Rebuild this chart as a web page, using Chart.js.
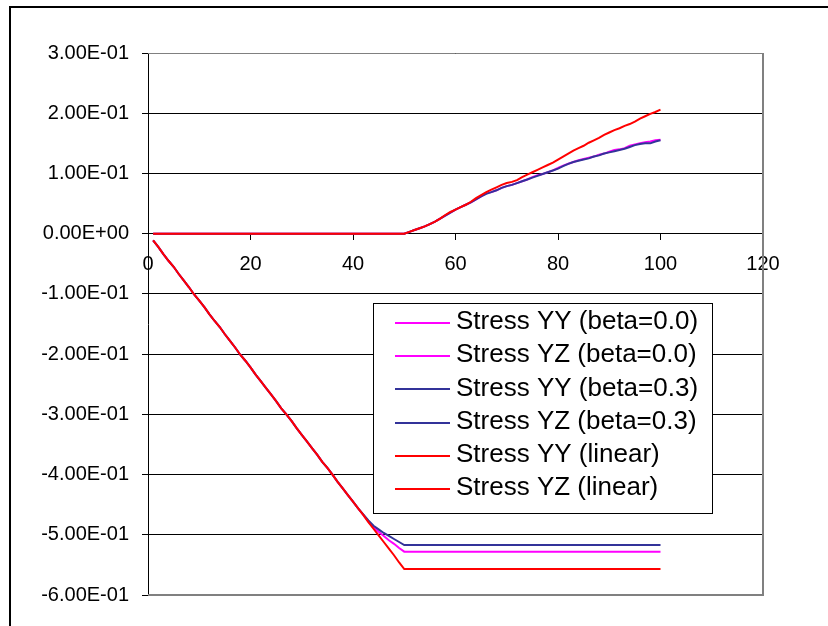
<!DOCTYPE html>
<html>
<head>
<meta charset="utf-8">
<script src="https://cdn.jsdelivr.net/npm/chart.js@4"></script>
<style>
html,body{margin:0;padding:0;background:#fff;}
#wrap{width:828px;height:626px;position:relative;}
</style>
</head>
<body>
<div id="wrap"><canvas id="c" width="828" height="626"></canvas></div>
<script>
const xValues = [1,2,3,4,5,6,7,8,9,10,11,12,13,14,15,16,17,18,19,20,21,22,23,24,25,26,27,28,29,30,31,32,33,34,35,36,37,38,39,40,41,42,43,44,45,46,47,48,49,50,51,52,53,54,55,56,57,58,59,60,61,62,63,64,65,66,67,68,69,70,71,72,73,74,75,76,77,78,79,80,81,82,83,84,85,86,87,88,89,90,91,92,93,94,95,96,97,98,99,100];

const legendLabels = ["Stress YY (beta=0.0)","Stress YZ (beta=0.0)","Stress YY (beta=0.3)","Stress YZ (beta=0.3)","Stress YY (linear)","Stress YZ (linear)"];

const yyBeta00 = [0,0,0,0,0,0,0,0,0,0, 0,0,0,0,0,0,0,0,0,0, 0,0,0,0,0,0,0,0,0,0, 0,0,0,0,0,0,0,0,0,0, 0,0,0,0,0,0,0,0,0,0,
 0.003,0.006,0.009,0.012,0.016,0.020,0.025,0.030,0.035,0.040,
 0.044,0.048,0.052,0.057,0.062,0.067,0.069,0.072,0.076,0.079,
 0.081,0.084,0.087,0.090,0.094,0.097,0.099,0.102,0.105,0.109,
 0.113,0.116,0.119,0.122,0.124,0.126,0.128,0.131,0.133,0.136,
 0.139,0.140,0.142,0.146,0.148,0.150,0.152,0.153,0.155,0.156];
const yzBeta00 = [-0.011,-0.022,-0.034,-0.045,-0.055,-0.067,-0.078,-0.089,-0.101,-0.111,
 -0.122,-0.134,-0.145,-0.155,-0.167,-0.178,-0.189,-0.201,-0.211,-0.222,
 -0.234,-0.245,-0.256,-0.267,-0.278,-0.290,-0.300,-0.311,-0.323,-0.334,
 -0.345,-0.356,-0.367,-0.379,-0.389,-0.400,-0.412,-0.423,-0.434,-0.445,
 -0.456,-0.467,-0.478,-0.488,-0.495,-0.502,-0.509,-0.515,-0.522,-0.528,
 -0.528,-0.528,-0.528,-0.528,-0.528,-0.528,-0.528,-0.528,-0.528,-0.528,
 -0.528,-0.528,-0.528,-0.528,-0.528,-0.528,-0.528,-0.528,-0.528,-0.528,
 -0.528,-0.528,-0.528,-0.528,-0.528,-0.528,-0.528,-0.528,-0.528,-0.528,
 -0.528,-0.528,-0.528,-0.528,-0.528,-0.528,-0.528,-0.528,-0.528,-0.528,
 -0.528,-0.528,-0.528,-0.528,-0.528,-0.528,-0.528,-0.528,-0.528,-0.528];
const yyBeta03 = [0,0,0,0,0,0,0,0,0,0, 0,0,0,0,0,0,0,0,0,0, 0,0,0,0,0,0,0,0,0,0, 0,0,0,0,0,0,0,0,0,0, 0,0,0,0,0,0,0,0,0,0,
 0.003,0.006,0.009,0.012,0.016,0.020,0.025,0.030,0.035,0.040,
 0.044,0.048,0.052,0.057,0.062,0.066,0.069,0.072,0.076,0.079,
 0.081,0.084,0.087,0.090,0.093,0.096,0.099,0.102,0.105,0.108,
 0.112,0.116,0.119,0.121,0.123,0.125,0.128,0.130,0.133,0.135,
 0.137,0.139,0.141,0.144,0.147,0.149,0.150,0.150,0.153,0.155];
const yzBeta03 = [-0.011,-0.022,-0.034,-0.045,-0.055,-0.067,-0.078,-0.089,-0.101,-0.111,
 -0.122,-0.134,-0.145,-0.155,-0.167,-0.178,-0.189,-0.201,-0.211,-0.222,
 -0.234,-0.245,-0.256,-0.267,-0.278,-0.290,-0.300,-0.311,-0.323,-0.334,
 -0.345,-0.356,-0.367,-0.379,-0.389,-0.400,-0.412,-0.423,-0.434,-0.445,
 -0.456,-0.466,-0.476,-0.485,-0.491,-0.497,-0.502,-0.507,-0.512,-0.517,
 -0.517,-0.517,-0.517,-0.517,-0.517,-0.517,-0.517,-0.517,-0.517,-0.517,
 -0.517,-0.517,-0.517,-0.517,-0.517,-0.517,-0.517,-0.517,-0.517,-0.517,
 -0.517,-0.517,-0.517,-0.517,-0.517,-0.517,-0.517,-0.517,-0.517,-0.517,
 -0.517,-0.517,-0.517,-0.517,-0.517,-0.517,-0.517,-0.517,-0.517,-0.517,
 -0.517,-0.517,-0.517,-0.517,-0.517,-0.517,-0.517,-0.517,-0.517,-0.517];
const yyLinear = [0,0,0,0,0,0,0,0,0,0, 0,0,0,0,0,0,0,0,0,0, 0,0,0,0,0,0,0,0,0,0, 0,0,0,0,0,0,0,0,0,0, 0,0,0,0,0,0,0,0,0,0,
 0.003,0.006,0.009,0.012,0.016,0.020,0.025,0.031,0.036,0.040,
 0.044,0.048,0.053,0.059,0.064,0.069,0.073,0.077,0.081,0.084,
 0.086,0.089,0.094,0.098,0.102,0.106,0.110,0.114,0.118,0.123,
 0.128,0.133,0.138,0.142,0.146,0.151,0.155,0.159,0.164,0.168,
 0.172,0.175,0.179,0.182,0.186,0.191,0.195,0.199,0.202,0.206];
const yzLinear = [-0.011,-0.022,-0.034,-0.045,-0.055,-0.067,-0.078,-0.089,-0.101,-0.111,
 -0.122,-0.134,-0.145,-0.155,-0.167,-0.178,-0.189,-0.201,-0.211,-0.222,
 -0.234,-0.245,-0.256,-0.267,-0.278,-0.290,-0.300,-0.311,-0.323,-0.334,
 -0.345,-0.356,-0.367,-0.379,-0.389,-0.400,-0.412,-0.423,-0.434,-0.445,
 -0.456,-0.467,-0.479,-0.490,-0.501,-0.512,-0.523,-0.534,-0.546,-0.557,
 -0.557,-0.557,-0.557,-0.557,-0.557,-0.557,-0.557,-0.557,-0.557,-0.557,
 -0.557,-0.557,-0.557,-0.557,-0.557,-0.557,-0.557,-0.557,-0.557,-0.557,
 -0.557,-0.557,-0.557,-0.557,-0.557,-0.557,-0.557,-0.557,-0.557,-0.557,
 -0.557,-0.557,-0.557,-0.557,-0.557,-0.557,-0.557,-0.557,-0.557,-0.557,
 -0.557,-0.557,-0.557,-0.557,-0.557,-0.557,-0.557,-0.557,-0.557,-0.557];

const yTickValues = [-0.6,-0.5,-0.4,-0.3,-0.2,-0.1,0,0.1,0.2,0.3];
const yTickLabels = ["-6.00E-01","-5.00E-01","-4.00E-01","-3.00E-01","-2.00E-01","-1.00E-01","0.00E+00","1.00E-01","2.00E-01","3.00E-01"];
const xTickValues = [0,20,40,60,80,100,120];
const xTickLabels = ["0","20","40","60","80","100","120"];

const MAGENTA = '#FF00FF', BLUE = '#333399', RED = '#FF0000';
const seriesValues = [yyBeta00, yzBeta00, yyBeta03, yzBeta03, yyLinear, yzLinear];
const seriesColors = [MAGENTA, MAGENTA, BLUE, BLUE, RED, RED];
const seriesOrder = [2, 2, 1, 1, 0, 0];

const datasets = seriesValues.map((vals, i) => ({
  label: legendLabels[i],
  data: xValues.map((x, k) => ({x: x, y: vals[k]})),
  borderColor: seriesColors[i],
  backgroundColor: seriesColors[i],
  borderWidth: 2,
  pointRadius: 0,
  tension: 0,
  fill: false,
  order: seriesOrder[i]
}));

const FONT = "'Liberation Sans', Arial, sans-serif";

const framePlugin = {
  id: 'frame',
  beforeDraw(chart) {
    const ctx = chart.ctx;
    ctx.save();
    ctx.fillStyle = '#fff';
    ctx.fillRect(0, 0, chart.width, chart.height);
    ctx.strokeStyle = '#000';
    ctx.lineWidth = 2;
    ctx.strokeRect(10, 7, 900, 700);
    ctx.restore();
  },
  afterDraw(chart) {
    const ctx = chart.ctx;
    const a = chart.chartArea;
    ctx.save();
    ctx.strokeStyle = '#808080';
    ctx.lineWidth = 1;
    ctx.beginPath();
    ctx.moveTo(a.left, a.top + 0.5);
    ctx.lineTo(a.right, a.top + 0.5);
    ctx.stroke();
    ctx.lineWidth = 2;
    ctx.beginPath();
    ctx.moveTo(a.right, a.top);
    ctx.lineTo(a.right, a.bottom);
    ctx.lineTo(a.left, a.bottom);
    ctx.stroke();

    // legend box
    const lx = 373, ly = 303, lw = 339, lh = 210;
    ctx.fillStyle = '#fff';
    ctx.fillRect(lx, ly, lw, lh);
    ctx.strokeStyle = '#000';
    ctx.lineWidth = 1;
    ctx.strokeRect(lx + 0.5, ly + 0.5, lw, lh);
    ctx.font = '26px ' + FONT;
    ctx.textBaseline = 'middle';
    ctx.textAlign = 'left';
    chart.data.datasets.forEach((ds, i) => {
      const y = 322 + i * 33.2;
      ctx.strokeStyle = ds.borderColor;
      ctx.lineWidth = 2;
      ctx.beginPath();
      ctx.moveTo(395, Math.round(y) + 1);
      ctx.lineTo(450, Math.round(y) + 1);
      ctx.stroke();
      ctx.fillStyle = '#000';
      ctx.fillText(ds.label, 456, y);
    });
    ctx.restore();
  }
};

new Chart(document.getElementById('c'), {
  type: 'line',
  data: { datasets: datasets },
  plugins: [framePlugin],
  options: {
    responsive: false,
    animation: false,
    events: [],
    layout: { padding: { left: 0, top: 53, right: 65, bottom: 31 } },
    plugins: { legend: { display: false }, tooltip: { enabled: false } },
    scales: {
      x: {
        type: 'linear',
        position: { y: 0 },
        min: 0, max: 120,
        afterBuildTicks(scale) { scale.ticks = xTickValues.map(v => ({ value: v })); },
        ticks: {
          color: '#000',
          font: { family: FONT, size: 20 },
          padding: 13,
          maxRotation: 0,
          callback: (v) => xTickLabels[xTickValues.indexOf(v)]
        },
        grid: { drawOnChartArea: false, drawTicks: true, tickLength: 6, color: '#000', tickColor: '#000' },
        border: { display: true, color: '#000', width: 1 }
      },
      y: {
        type: 'linear',
        min: -0.6, max: 0.3,
        afterBuildTicks(scale) { scale.ticks = yTickValues.map(v => ({ value: v })); },
        afterFit(scale) { scale.width = 148; },
        ticks: {
          color: '#000',
          font: { family: FONT, size: 20 },
          padding: 13,
          callback: (v) => {
            const idx = yTickValues.findIndex(t => Math.abs(t - v) < 1e-9);
            return idx >= 0 ? yTickLabels[idx] : '';
          }
        },
        grid: { drawOnChartArea: true, drawTicks: true, tickLength: 6, color: '#000', tickColor: '#000', lineWidth: 1 },
        border: { display: true, color: '#000', width: 1 }
      }
    }
  }
});
</script>
</body>
</html>
